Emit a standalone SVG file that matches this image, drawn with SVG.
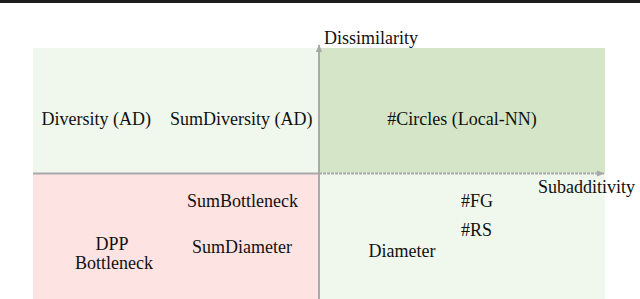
<svg xmlns="http://www.w3.org/2000/svg" width="640" height="299" viewBox="0 0 640 299">
<style>
text{font-family:"Liberation Serif","Times New Roman",serif;font-size:18px;fill:#111}
.ax{stroke:#a9a9a9;stroke-width:2;fill:none}
.m{text-anchor:middle}
</style>
<defs>
<marker id="ah" viewBox="0 0 10 10" refX="9" refY="5" markerWidth="4" markerHeight="4" orient="auto" markerUnits="strokeWidth">
<path d="M0,1 L10,5 L0,9 z" fill="#a9a9a9"/>
</marker>
</defs>
<rect width="640" height="299" fill="#ffffff"/>
<rect x="0" y="0" width="640" height="3" fill="#1c1c1c"/>
<g id="q-top-left">
<rect x="33" y="48" width="286" height="125.5" fill="#f0f7ed"/>
<text x="41.5" y="125">Diversity (AD)</text>
<text x="170" y="125">SumDiversity (AD)</text>
</g>
<g id="q-top-right">
<rect x="319" y="48" width="286" height="125.5" fill="#d5e6c8"/>
<text x="462" y="125" class="m">#Circles (Local-NN)</text>
</g>
<g id="q-bottom-left">
<rect x="33" y="173.5" width="286" height="125.5" fill="#fee3e3"/>
<text x="242.5" y="207" class="m">SumBottleneck</text>
<text x="242" y="253" class="m">SumDiameter</text>
<text x="112" y="250" class="m">DPP</text>
<text x="114" y="269" class="m">Bottleneck</text>
</g>
<g id="q-bottom-right">
<rect x="319" y="173.5" width="286" height="125.5" fill="#f0f7ed"/>
<text x="461" y="207">#FG</text>
<text x="461" y="235.5">#RS</text>
<text x="368.5" y="257">Diameter</text>
</g>
<g id="connectors">
<line class="ax" x1="33" y1="173.5" x2="319" y2="173.5"/>
<line class="ax" x1="319" y1="173.5" x2="604" y2="173.5" stroke-dasharray="3 1" marker-end="url(#ah)"/>
<line class="ax" x1="319" y1="299" x2="319" y2="45" marker-end="url(#ah)"/>
</g>
<g id="axis-labels">
<text x="324" y="44">Dissimilarity</text>
<text x="538" y="193">Subadditivity</text>
</g>
</svg>
